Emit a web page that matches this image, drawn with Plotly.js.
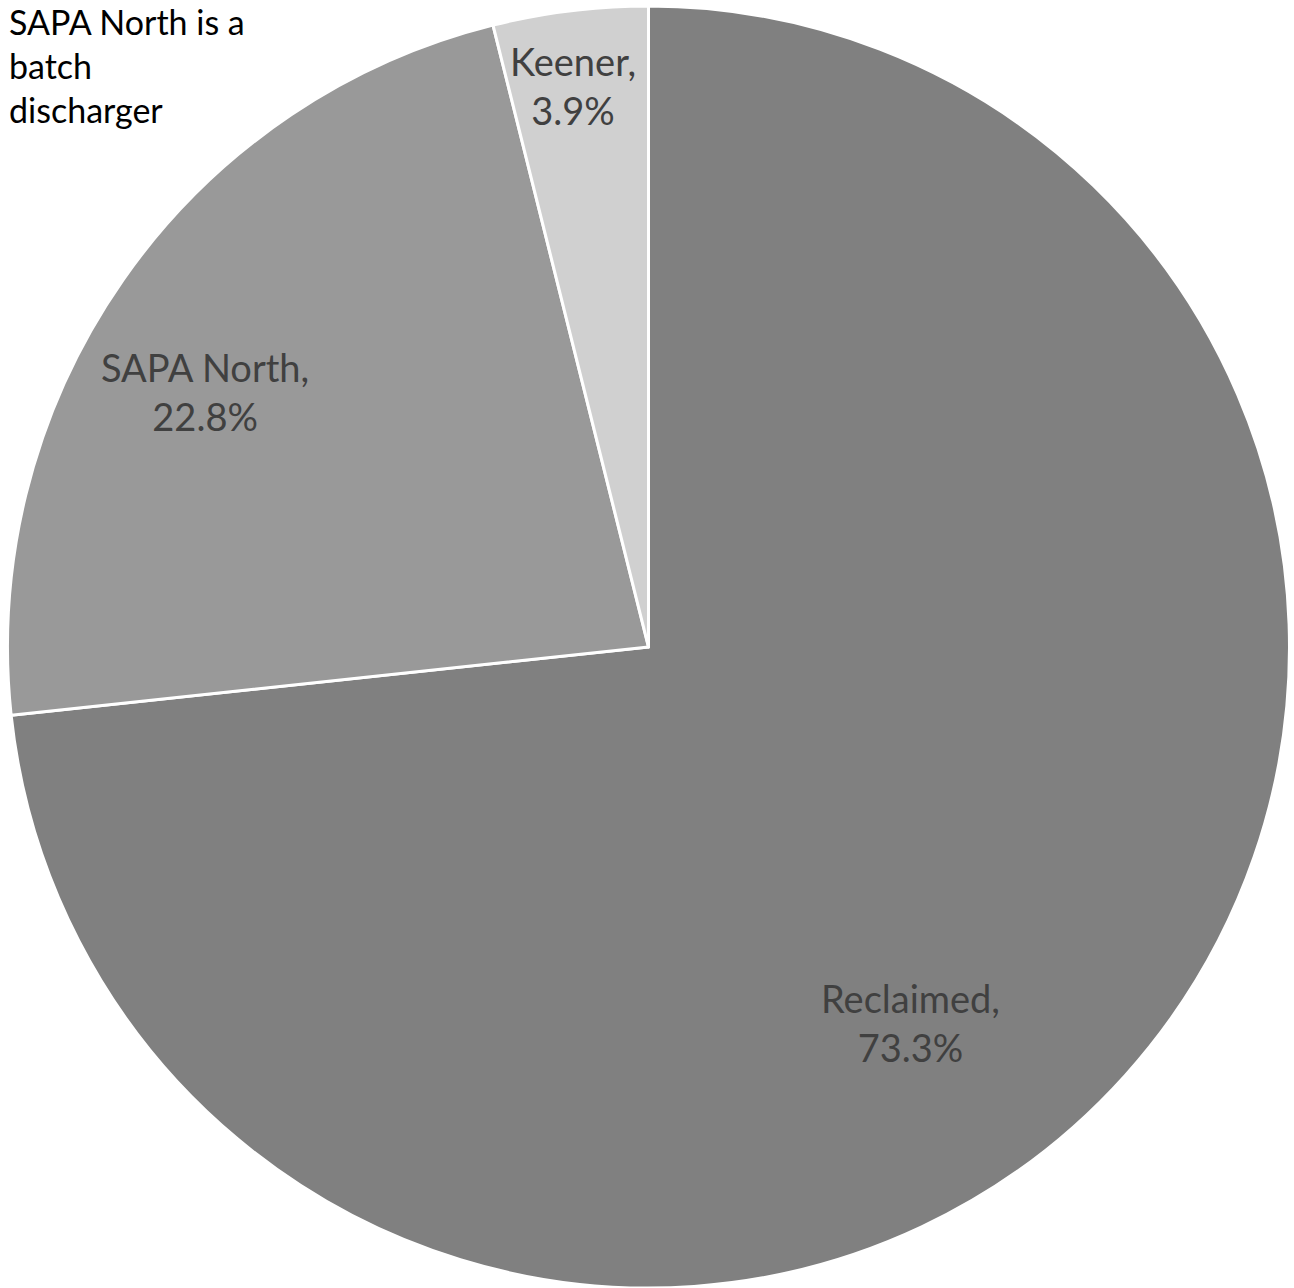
<!DOCTYPE html>
<html>
<head>
<meta charset="utf-8">
<script src="https://cdn.plot.ly/plotly-3.0.1.min.js"></script>
<style>html,body{margin:0;padding:0;background:#fff;}#chart{width:1294px;height:1288px;}</style>
</head>
<body>
<div id="chart"></div>
<script>
const categories = ["Reclaimed", "SAPA North", "Keener"];
const percents = [73.3, 22.8, 3.9];
const sliceColors = ["#808080", "#999999", "#d0d0d0"];
const noteText = "SAPA North is a<br>batch<br>discharger";

const W = 1294, H = 1288;
const M = { l: 3, r: 0, t: 6, b: 0 };
const pw = W - M.l - M.r, ph = H - M.t - M.b;
const px2x = p => (p - M.l) / pw;
const py2y = p => 1 - (p - M.t) / ph;

// label anchor points (pixel layout, as placed in the reference)
const labelSpots = [[910, 1022], [205, 392], [573, 86]];

const labelFont = { family: "Lato, 'Open Sans', sans-serif", size: 38, color: "#404040" };

const trace = {
  type: "pie",
  labels: categories,
  values: percents,
  textinfo: "none",
  sort: false,
  direction: "clockwise",
  rotation: 0,
  hoverinfo: "none",
  marker: { colors: sliceColors, line: { color: "#ffffff", width: 3 } },
  showlegend: false,
  domain: { x: [0, 1], y: [0, 1] }
};

const annotations = categories.map((c, i) => ({
  text: c + ",<br>" + percents[i].toFixed(1) + "%",
  xref: "paper", yref: "paper",
  x: px2x(labelSpots[i][0]), y: py2y(labelSpots[i][1]),
  xanchor: "center", yanchor: "middle", align: "center",
  showarrow: false, font: labelFont
}));

annotations.push({
  text: noteText,
  xref: "paper", yref: "paper",
  x: px2x(8), y: py2y(0), xanchor: "left", yanchor: "top",
  align: "left", showarrow: false, borderpad: 0,
  font: { family: "Lato, 'Open Sans', sans-serif", size: 34, color: "#000000" }
});

const layout = {
  width: W,
  height: H,
  margin: M,
  paper_bgcolor: "#ffffff",
  showlegend: false,
  annotations: annotations
};

Plotly.newPlot("chart", [trace], layout, { displayModeBar: false, staticPlot: true });
</script>
</body>
</html>
